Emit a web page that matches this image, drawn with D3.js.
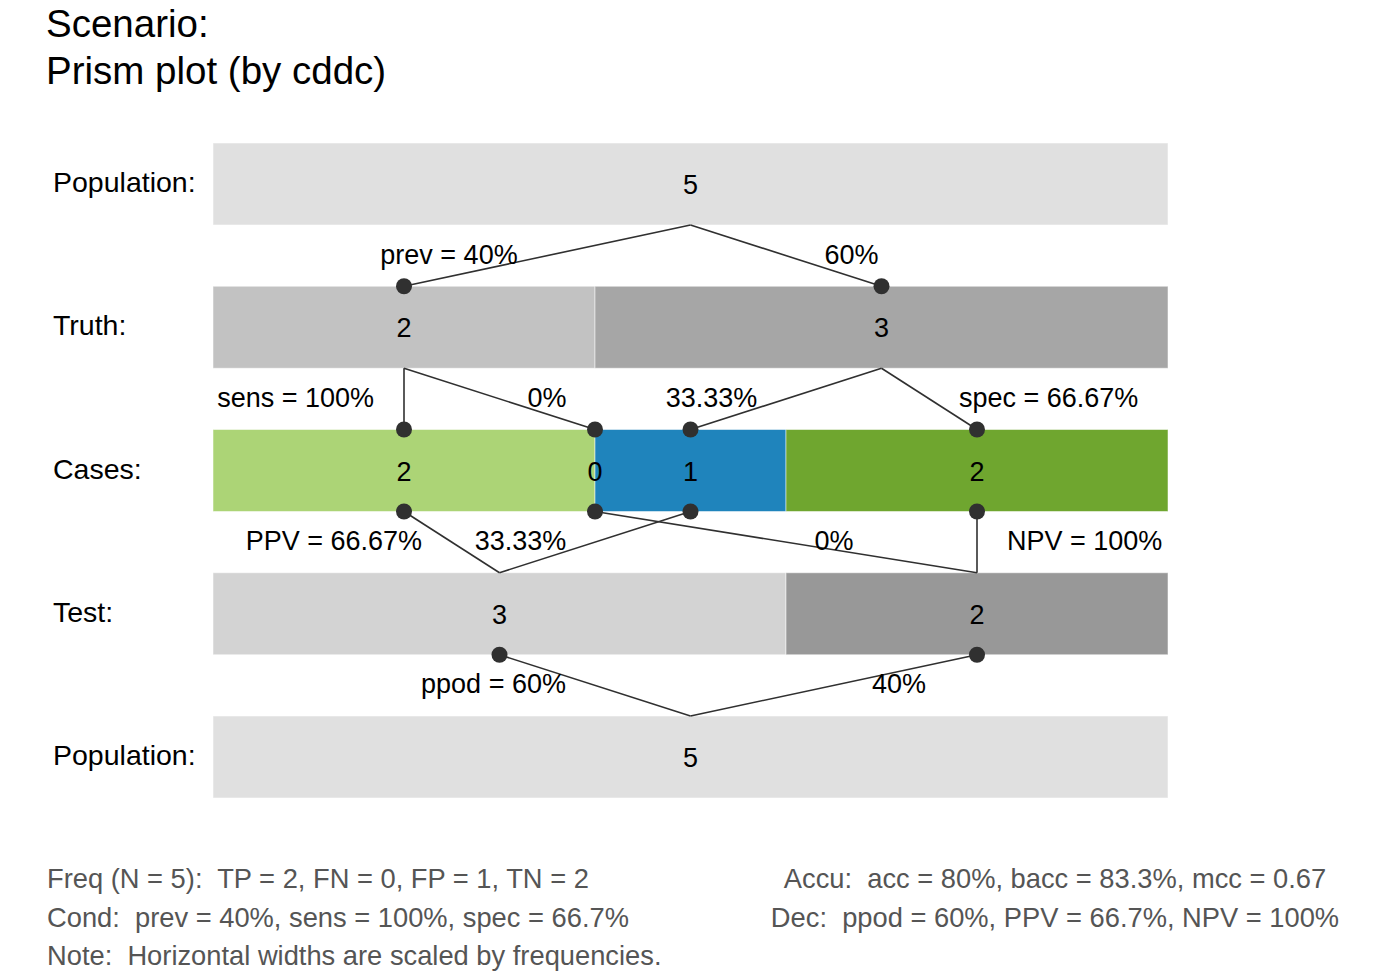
<!DOCTYPE html>
<html>
<head>
<meta charset="utf-8">
<script src="https://cdn.jsdelivr.net/npm/d3@7/dist/d3.min.js"></script>
<style>
  html, body { margin: 0; padding: 0; background: #fff; }
  svg { display: block; font-family: "Liberation Sans", Arial, Helvetica, sans-serif; }
  text { white-space: pre; }
</style>
</head>
<body>
<svg id="chart" width="1382" height="980"></svg>
<script>
// ---------- data ----------
const titleLines = ["Scenario:", "Prism plot (by cddc)"];
const rowNames = ["Population:", "Truth:", "Cases:", "Test:", "Population:"];
const popFreq = [5];
const truthFreq = [2, 3];          // cond_true, cond_false
const casesFreq = [2, 0, 1, 2];    // TP, FN, FP, TN
const testFreq = [3, 2];           // dec_pos, dec_neg
const labels1 = ["prev = 40%", "60%"];
const labels2 = ["sens = 100%", "0%", "33.33%", "spec = 66.67%"];
const labels3 = ["PPV = 66.67%", "33.33%", "0%", "NPV = 100%"];
const labels4 = ["ppod = 60%", "40%"];
const footLeft = [
  "Freq (N = 5):  TP = 2, FN = 0, FP = 1, TN = 2",
  "Cond:  prev = 40%, sens = 100%, spec = 66.7%",
  "Note:  Horizontal widths are scaled by frequencies."
];
const footRight = [
  "Accu:  acc = 80%, bacc = 83.3%, mcc = 0.67",
  "Dec:  ppod = 60%, PPV = 66.7%, NPV = 100%"
];

// ---------- styles ----------
const popCol = "#e0e0e0";
const truthCols = ["#c2c2c2", "#a6a6a6"];
const casesCols = ["#acd476", "#e0301e", "#1f84bc", "#6fa62f"];
const testCols = ["#d3d3d3", "#989898"];
const ink = "#303030";

const svg = d3.select("#chart");
const N = d3.sum(popFreq);
const x = d3.scaleLinear().domain([0, N]).range([213, 1168]);
const barH = 82;
const y = d3.scaleLinear().domain([0, 4]).range([143, 716]);

function segments(freqs, cols, row) {
  let acc = 0;
  return freqs.map((f, i) => {
    const s = { x0: acc, x1: acc + f, f, col: cols[i], row };
    acc += f;
    s.mid = (s.x0 + s.x1) / 2;
    return s;
  });
}
const rows = [
  segments(popFreq, [popCol], 0),
  segments(truthFreq, truthCols, 1),
  segments(casesFreq, casesCols, 2),
  segments(testFreq, testCols, 3),
  segments(popFreq, [popCol], 4)
];

// bars
const gBars = svg.append("g");
rows.forEach(r => {
  gBars.selectAll(null).data(r.filter(s => s.f > 0)).enter().append("rect")
    .attr("x", d => x(d.x0)).attr("y", d => y(d.row))
    .attr("width", d => x(d.x1) - x(d.x0)).attr("height", barH)
    .attr("fill", d => d.col)
    .attr("stroke", "#ffffff").attr("stroke-opacity", 0.5).attr("stroke-width", 1);
});

// edges
const rowTop = r => y(r);
const rowBot = r => y(r) + barH;
const edges = [];
rows[1].forEach(s => edges.push({ x1: x(rows[0][0].mid), y1: rowBot(0), x2: x(s.mid), y2: rowTop(1) }));
[[0, 0], [0, 1], [1, 2], [1, 3]].forEach(([t, c]) =>
  edges.push({ x1: x(rows[1][t].mid), y1: rowBot(1), x2: x(rows[2][c].mid), y2: rowTop(2) }));
[[0, 0], [1, 1], [2, 0], [3, 1]].forEach(([c, t]) =>
  edges.push({ x1: x(rows[2][c].mid), y1: rowBot(2), x2: x(rows[3][t].mid), y2: rowTop(3) }));
rows[3].forEach(s => edges.push({ x1: x(s.mid), y1: rowBot(3), x2: x(rows[4][0].mid), y2: rowTop(4) }));

svg.append("g").selectAll("line").data(edges).enter().append("line")
  .attr("x1", d => d.x1).attr("y1", d => d.y1).attr("x2", d => d.x2).attr("y2", d => d.y2)
  .attr("stroke", ink).attr("stroke-width", 1.6);

// dots
const dots = [];
rows[1].forEach(s => dots.push([x(s.mid), rowTop(1)]));
rows[2].forEach(s => { dots.push([x(s.mid), rowTop(2)]); dots.push([x(s.mid), rowBot(2)]); });
rows[3].forEach(s => dots.push([x(s.mid), rowBot(3)]));
svg.append("g").selectAll("circle").data(dots).enter().append("circle")
  .attr("cx", d => d[0]).attr("cy", d => d[1]).attr("r", 8).attr("fill", ink);

// bar numbers
const gNum = svg.append("g").attr("font-size", 27).attr("fill", "#000").attr("text-anchor", "middle");
rows.forEach(r => {
  gNum.selectAll(null).data(r).enter().append("text")
    .attr("x", d => x(d.mid)).attr("y", d => y(d.row) + barH / 2 + 10)
    .text(d => d.f);
});

// row names
svg.append("g").attr("font-size", 28.5).attr("fill", "#000")
  .selectAll("text").data(rowNames).enter().append("text")
  .attr("x", 53).attr("y", (d, i) => y(i) + barH / 2 + 8).text(d => d);

// edge labels
const gapMid = r => rowBot(r) + (y(r + 1) - rowBot(r)) / 2 + 8;
const cc = i => x(rows[2][i].mid);
const tc = i => x(rows[3][i].mid);
const tr = i => x(rows[1][i].mid);
const edgeLabels = [
  { t: labels1[0], a: "middle", x: tr(0) + 45, r: 0 },
  { t: labels1[1], a: "middle", x: tr(1) - 30, r: 0 },
  { t: labels2[0], a: "end", x: cc(0) - 30, r: 1 },
  { t: labels2[1], a: "middle", x: cc(1) - 48, r: 1 },
  { t: labels2[2], a: "middle", x: cc(2) + 21, r: 1 },
  { t: labels2[3], a: "start", x: cc(3) - 18, r: 1 },
  { t: labels3[0], a: "end", x: cc(0) + 18, r: 2 },
  { t: labels3[1], a: "middle", x: tc(0) + 21, r: 2 },
  { t: labels3[2], a: "middle", x: tc(1) - 143, r: 2 },
  { t: labels3[3], a: "start", x: cc(3) + 30, r: 2 },
  { t: labels4[0], a: "middle", x: tc(0) - 6, r: 3 },
  { t: labels4[1], a: "middle", x: tc(1) - 78, r: 3 }
];
svg.append("g").attr("font-size", 27).attr("fill", "#000")
  .selectAll("text").data(edgeLabels).enter().append("text")
  .attr("x", d => d.x).attr("y", d => gapMid(d.r)).attr("text-anchor", d => d.a).text(d => d.t);

// title
svg.append("g").attr("font-size", 38.5).attr("fill", "#000")
  .selectAll("text").data(titleLines).enter().append("text")
  .attr("x", 46).attr("y", (d, i) => 37 + i * 47).text(d => d);

// footer
svg.append("g").attr("font-size", 27.3).attr("fill", "#555")
  .selectAll("text").data(footLeft).enter().append("text")
  .attr("x", 47).attr("y", (d, i) => 888 + i * 38.5).text(d => d);
svg.append("g").attr("font-size", 27.3).attr("fill", "#555").attr("text-anchor", "middle")
  .selectAll("text").data(footRight).enter().append("text")
  .attr("x", 1055).attr("y", (d, i) => 888 + i * 38.5).text(d => d);
</script>
</body>
</html>
